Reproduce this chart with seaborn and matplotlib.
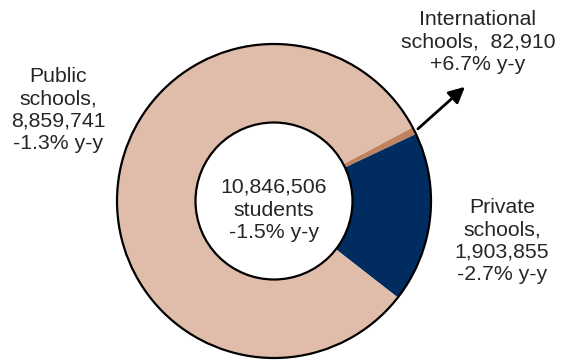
import numpy as np
import matplotlib
matplotlib.use("Agg")
import matplotlib.pyplot as plt
import seaborn as sns
from matplotlib.patches import Circle

# School enrolment by type
categories = ["International schools", "Private schools", "Public schools"]
students = [82910, 1903855, 8859741]
yoy_change = [6.7, -2.7, -1.3]
total_students = 10846506
total_yoy = -1.5

sns.set_style("white")
plt.rcParams["font.family"] = ["Liberation Sans", "DejaVu Sans"]

colors = ["#C1835F", "#002C60", "#E0BDAA"]

W, H = 569, 360
fig = plt.figure(figsize=(W / 100, H / 100), dpi=100)
ax = fig.add_axes([0, 0, 1, 1])

center = (274, 159)
R = 157
ring = 0.5 * R
start = 28.0

wedges, _ = ax.pie(students, colors=colors, startangle=start, counterclock=False,
                   radius=R, center=center, frame=True,
                   wedgeprops=dict(width=ring, linewidth=0))
ax.set_xlim(0, W)
ax.set_ylim(0, H)
ax.set_aspect("equal")
ax.axis("off")

# outlines of the ring
ax.add_patch(Circle(center, R, fill=False, lw=1.6, ec="black", zorder=3))
ax.add_patch(Circle(center, R - ring, fill=False, lw=1.6, ec="black", zorder=3))

fs = 15.3
ls = 1.24

def fmt(n):
    return f"{n:,}"

def yoy(v):
    return f"{v:+.1f}% y-y"

# centre total
ax.text(center[0], center[1] - 9,
        f"{fmt(total_students)}\nstudents\n{yoy(total_yoy)}",
        ha="center", va="center", fontsize=fs, linespacing=ls)

# International schools label with arrow from its thin wedge
w = wedges[0]
mid = np.deg2rad((w.theta1 + w.theta2) / 2)
tail = (center[0] + (R + 4) * np.cos(mid), center[1] + (R + 4) * np.sin(mid))
head = (tail[0] + 47, tail[1] + 42)
ax.annotate("", xy=head, xytext=tail,
            arrowprops=dict(arrowstyle="-|>", lw=2, color="black",
                            mutation_scale=24, shrinkA=0, shrinkB=0))
ax.text(478, 318,
        f"International\nschools,  {fmt(students[0])}\n{yoy(yoy_change[0])}",
        ha="center", va="center", fontsize=fs, linespacing=ls)

# Private schools label
ax.text(502, 119,
        f"Private\nschools,\n{fmt(students[1])}\n{yoy(yoy_change[1])}",
        ha="center", va="center", fontsize=fs, linespacing=ls)

# Public schools label
ax.text(58, 250,
        f"Public\nschools,\n{fmt(students[2])}\n{yoy(yoy_change[2])}",
        ha="center", va="center", fontsize=fs, linespacing=ls)

fig.savefig("out.png", dpi=100)
